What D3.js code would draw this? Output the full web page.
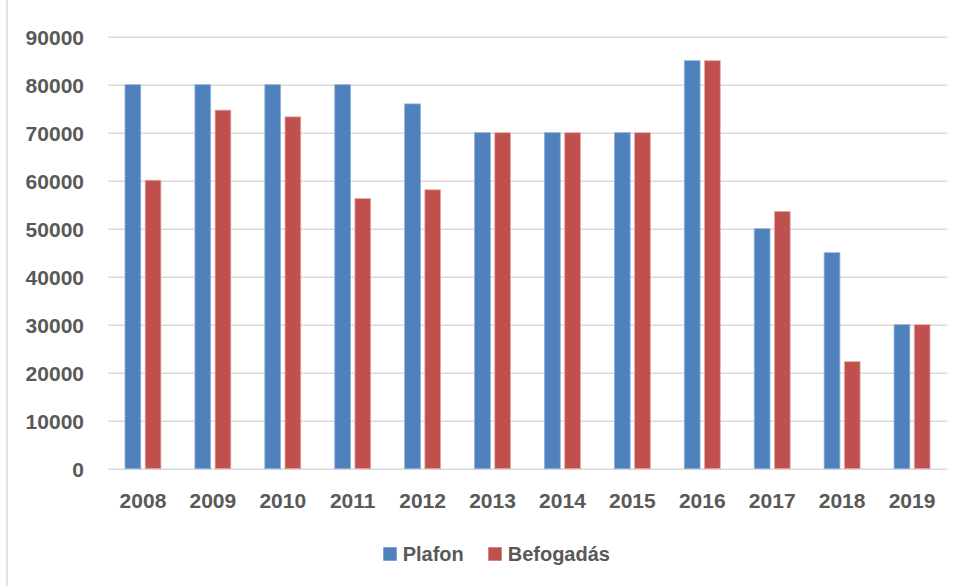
<!DOCTYPE html>
<html><head><meta charset="utf-8">
<script src="https://cdn.jsdelivr.net/npm/d3@7"></script>
<style>body{margin:0;background:#fff}svg{display:block}text{font-family:"Liberation Sans",Arial,sans-serif;font-weight:bold;fill:#595959}</style>
</head><body><svg id="c" width="963" height="586"></svg>
<script>
const years = ["2008","2009","2010","2011","2012","2013","2014","2015","2016","2017","2018","2019"];
const plafon = [80000,80000,80000,80000,76000,70000,70000,70000,85000,50000,45000,30000];
const befogadas = [60100,74700,73300,56300,58100,70000,70000,70000,85000,53600,22300,30000];
const seriesNames = ["Plafon","Befogadás"];
const colors = ["#4F81BD","#C0504D"];
const yTicks = [0,10000,20000,30000,40000,50000,60000,70000,80000,90000];

const svg = d3.select("#c");
const pLeft = 108, pRight = 947, pTop = 36.7, pBottom = 468.7;
const x0 = d3.scaleBand().domain(years).range([pLeft, pRight]).paddingInner(0.486).paddingOuter(0.243);
const x1 = d3.scaleBand().domain(seriesNames).range([0, x0.bandwidth()]).paddingInner(0.22);
const y = d3.scaleLinear().domain([0, 90000]).range([pBottom, pTop]);

svg.append("line").attr("x1",7).attr("x2",7).attr("y1",0).attr("y2",586).attr("stroke","#D9D9D9").attr("stroke-width",1.5);

const grid = svg.append("g").attr("transform",`translate(${pLeft},0)`)
  .call(d3.axisLeft(y).tickValues(yTicks).tickSize(-(pRight-pLeft)).tickFormat(""));
grid.select(".domain").remove();
grid.selectAll("line").attr("stroke","#D9D9D9").attr("stroke-width",1.6);

const yl = svg.append("g").attr("transform",`translate(84,0)`)
  .call(d3.axisLeft(y).tickValues(yTicks).tickSize(0).tickPadding(0).tickFormat(d3.format("d")));
yl.select(".domain").remove();
yl.selectAll("text").attr("font-size",21).attr("fill","#595959").attr("font-family",null).attr("dy","0.35em");

const data = years.map((yr,i)=>({yr, vals:[plafon[i], befogadas[i]]}));
const g = svg.append("g").selectAll("g").data(data).join("g")
  .attr("transform", d=>`translate(${x0(d.yr)},0)`);
g.selectAll("rect").data(d=>d.vals.map((v,j)=>({v, s:seriesNames[j], j})))
  .join("rect")
  .attr("x", d=>x1(d.s)).attr("width", x1.bandwidth())
  .attr("y", d=>y(d.v)).attr("height", d=>pBottom - y(d.v))
  .attr("fill", d=>colors[d.j])
  .attr("stroke", d=> d.j===0 ? "#8FB0DA" : "#E8A9A7").attr("stroke-width",0.8);

const xl = svg.append("g").attr("transform",`translate(0,${pBottom})`)
  .call(d3.axisBottom(x0).tickSize(0).tickPadding(0));
xl.select(".domain").remove();
xl.selectAll("text").attr("font-size",21).attr("fill","#595959").attr("font-family",null).attr("dy","0.35em").attr("y",32);

const legX = [383.3, 488.3];
const lg = svg.append("g").selectAll("g").data(seriesNames).join("g")
  .attr("transform",(d,i)=>`translate(${legX[i]},547.3)`);
lg.append("rect").attr("width",13.4).attr("height",13.4).attr("fill",(d,i)=>colors[i]);
lg.append("text").attr("x",19.4).attr("y",7).attr("dy","0.35em").attr("font-size",20).text(d=>d);
</script></body></html>
